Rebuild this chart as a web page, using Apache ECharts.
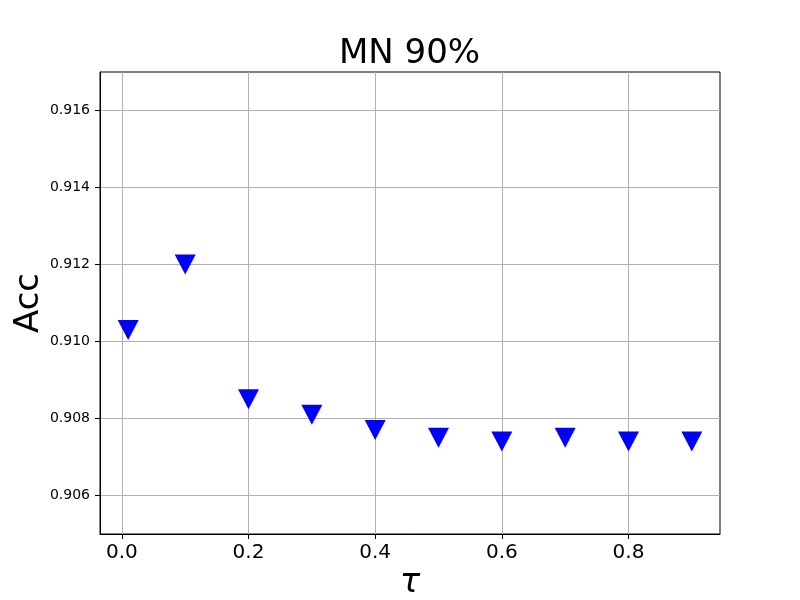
<!DOCTYPE html>
<html>
<head>
    <meta charset="utf-8">
    <title>MN 90%</title>
    <script src="https://cdn.jsdelivr.net/npm/echarts@6/dist/echarts.min.js"></script>
    <style>
        html, body { margin: 0; padding: 0; background: #fff; }
    </style>
</head>
<body>
<div id="main" style="width:800px; height:600px;"></div>

<script type="text/javascript">
    // data
    var tau = [0.01, 0.1, 0.2, 0.3, 0.4, 0.5, 0.6, 0.7, 0.8, 0.9];
    var acc = [0.9103, 0.9120, 0.9085, 0.9081, 0.9077, 0.9075, 0.9074, 0.9075, 0.9074, 0.9074];
    var xTicks = [0.0, 0.2, 0.4, 0.6, 0.8];
    var yTicks = [0.906, 0.908, 0.910, 0.912, 0.914, 0.916];

    var points = tau.map(function (t, i) {
        return [t, acc[i]];
    });

    var myChart = echarts.init(document.getElementById('main'));
    var font = 'DejaVu Sans';

    var option = {
        backgroundColor: '#fff',
        animation: false,
        title: {
            text: 'MN 90%',
            left: 334,
            top: 32,
            textStyle: {
                fontFamily: font,
                fontSize: 34,
                fontWeight: 'normal',
                color: '#000'
            }
        },
        grid: {
            left: 100,
            right: 80,
            top: 72,
            bottom: 66,
            outerBoundsMode: 'none',
            containLabel: false,
            show: true,
            borderColor: '#000',
            borderWidth: 1,
            backgroundColor: 'transparent'
        },
        xAxis: {
            type: 'value',
            min: -0.0345,
            max: 0.9445,
            name: 'τ',
            nameLocation: 'middle',
            nameGap: 32,
            nameMoveOverlap: false,
            nameTextStyle: {
                fontFamily: font,
                fontSize: 34,
                fontStyle: 'italic',
                color: '#000'
            },
            axisLine: { show: true, onZero: false, lineStyle: { color: '#000', width: 1 } },
            axisTick: {
                show: true,
                length: 5,
                customValues: xTicks,
                lineStyle: { color: '#000' }
            },
            axisLabel: {
                customValues: xTicks,
                margin: 9,
                fontFamily: font,
                fontSize: 20,
                color: '#000',
                formatter: function (v) { return v.toFixed(1); }
            },
            splitLine: { show: true, lineStyle: { color: '#b0b0b0', width: 1 } }
        },
        yAxis: {
            type: 'value',
            min: 0.905,
            max: 0.917,
            name: 'Acc',
            nameLocation: 'middle',
            nameGap: 54,
            nameMoveOverlap: false,
            nameTextStyle: {
                fontFamily: font,
                fontSize: 34,
                color: '#000'
            },
            axisLine: { show: true, onZero: false, lineStyle: { color: '#000', width: 1 } },
            axisTick: {
                show: true,
                length: 5,
                customValues: yTicks,
                lineStyle: { color: '#000' }
            },
            axisLabel: {
                customValues: yTicks,
                margin: 10,
                fontFamily: font,
                fontSize: 14,
                color: '#000',
                formatter: function (v) { return v.toFixed(3); }
            },
            splitLine: { show: true, lineStyle: { color: '#b0b0b0', width: 1 } }
        },
        series: [{
            type: 'scatter',
            data: points,
            symbol: 'triangle',
            symbolRotate: 180,
            symbolSize: [21, 20],
            itemStyle: { color: '#0000ff', opacity: 1 }
        }]
    };
    myChart.setOption(option);
</script>
</body>
</html>
